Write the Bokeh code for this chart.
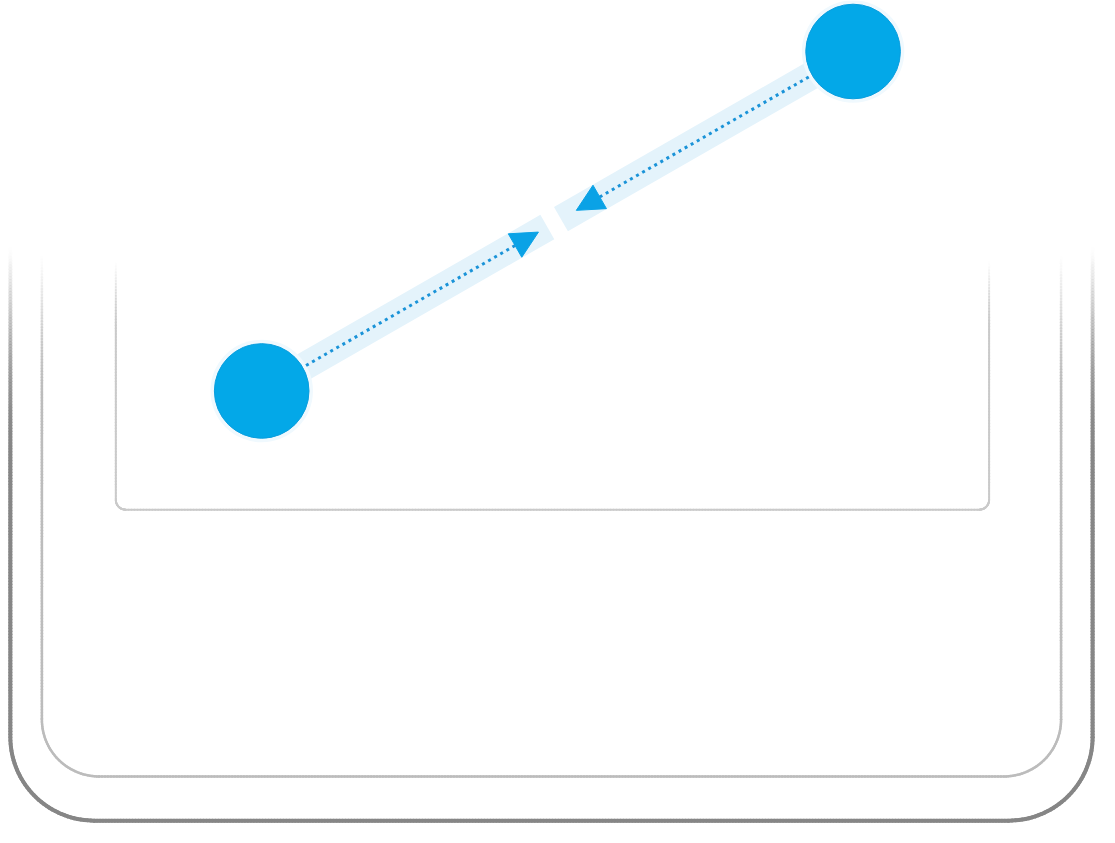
import numpy as np
from bokeh.plotting import figure
from bokeh.models import Range1d, Arrow, NormalHead, ColumnDataSource
from bokeh.embed import file_html
from bokeh.resources import INLINE

# ---- illustration data (reference image pixel coordinates) ----
touch_x = [265, 865]          # touch points (start finger, end finger)
touch_y = [398, 52]
touch_r = [48, 48]
gap_t = [0.483, 0.506]        # gap in halo band (fraction along the gesture)
arrow_tip_t = [0.468, 0.532]  # where each arrow tip sits
dot_start_t = [0.075, 0.925]  # where dotted lines leave the circles

# device outlines: left x, right x, top y (fade start), bottom y, corner radius, fade end y
frame_xl = [10, 42, 117]
frame_xr = [1108, 1076, 1003]
frame_top = [250, 258, 265]
frame_bot = [836, 791, 519]
frame_r = [85, 58, 10]
frame_fade = [460, 400, 330]
frame_color = ["#868686", "#bcbcbc", "#cacaca"]
frame_width = [4.0, 2.5, 2.0]

W, H = 1099, 827
p = figure(width=W, height=H, output_backend="svg", toolbar_location=None,
           x_range=Range1d(0, 1115), y_range=Range1d(843, 0),
           min_border=0, background_fill_color="white", border_fill_color="white")
p.axis.visible = False
p.grid.visible = False
p.outline_line_color = None


def u_path(xl, xr, yt, yb, r, step=3.0):
    pts = []
    for y in np.arange(yt, yb - r, step):
        pts.append((xl, y))
    cx, cy = xl + r, yb - r
    for th in np.linspace(0, np.pi / 2, 40):
        pts.append((cx - r * np.cos(th), cy + r * np.sin(th)))
    for x in np.arange(xl + r, xr - r, step):
        pts.append((x, yb))
    cx = xr - r
    for th in np.linspace(np.pi / 2, 0, 40):
        pts.append((cx + r * np.cos(th), cy + r * np.sin(th)))
    for y in np.arange(yb - r, yt - 0.1, -step):
        pts.append((xr, y))
    return np.array(pts)


for xl, xr, yt, yb, r, yf, col, lw in zip(frame_xl, frame_xr, frame_top, frame_bot,
                                          frame_r, frame_fade, frame_color, frame_width):
    pts = u_path(xl, xr, yt, yb, r)
    xs, ys, al = [], [], []
    for i in range(len(pts) - 1):
        ym = 0.5 * (pts[i][1] + pts[i + 1][1])
        a = float(np.clip((ym - yt) / (yf - yt), 0, 1)) ** 1.3
        xs.append([pts[i][0], pts[i + 1][0]])
        ys.append([pts[i][1], pts[i + 1][1]])
        al.append(a)
    src = ColumnDataSource(dict(xs=xs, ys=ys, a=al))
    p.multi_line("xs", "ys", source=src, line_color=col, line_width=lw,
                 line_alpha="a", line_cap="round")

# gesture geometry
x0, y0 = touch_x[0], touch_y[0]
x1, y1 = touch_x[1], touch_y[1]


def pt(t):
    return x0 + (x1 - x0) * t, y0 + (y1 - y0) * t


# halo band
band_col = "#e4f3fb"
for ta, tb in [(0.0, gap_t[0]), (gap_t[1], 1.0)]:
    a, b = pt(ta), pt(tb)
    p.line([a[0], b[0]], [a[1], b[1]], line_color=band_col, line_width=28, line_cap="butt")

# dotted arrows
dot_col = "#1a93d8"
for ts, te in [(dot_start_t[0], arrow_tip_t[0]), (dot_start_t[1], arrow_tip_t[1])]:
    s, e = pt(ts), pt(te)
    p.add_layout(Arrow(x_start=s[0], y_start=s[1], x_end=e[0], y_end=e[1],
                       line_color=dot_col, line_width=3, line_dash="3 4",
                       end=NormalHead(size=27, fill_color="#0aa2e6", line_color="#0aa2e6",
                                      line_width=1)))

# touch circles with soft halo
p.circle(touch_x, touch_y, radius=[r + 4 for r in touch_r], fill_color="#f0f9fe",
         line_color=None)
p.circle(touch_x, touch_y, radius=touch_r, fill_color="#03a8e8", line_color="#0a9ede",
         line_width=1)

open("out.html", "w").write(file_html(p, INLINE))
